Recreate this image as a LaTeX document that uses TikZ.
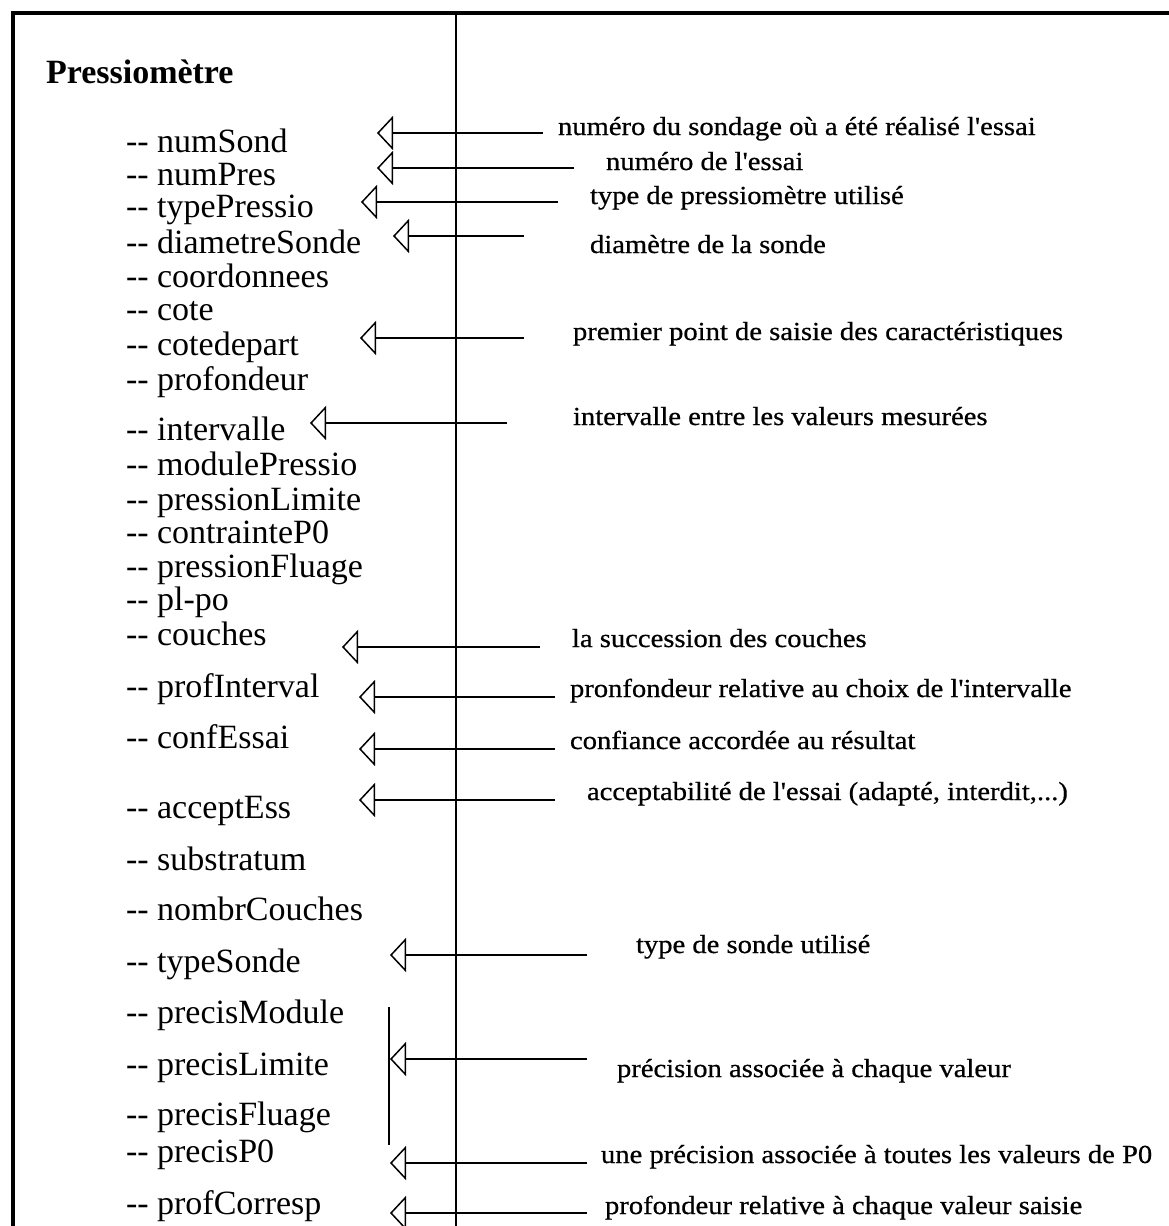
\documentclass[tikz,border=0pt]{standalone}
\usepackage{fontspec}
\setmainfont{Liberation Serif}
\newfontfamily\notefamily[FakeBold=0.6]{Liberation Serif}
\usetikzlibrary{arrows.meta}

% type sizes (1pt = 1 unit of the drawing)
\newcommand\itemfnt{\fontsize{34}{34}\selectfont}
\newcommand\titlefnt{\fontsize{34}{34}\selectfont\bfseries}
\newcommand\notefnt{\notefamily\fontsize{26}{26}\selectfont}
\newcommand\attr[1]{-{}- #1}
\newcommand\apos{\textquotesingle}
\newcommand\notetext[1]{\scalebox{1.1}[1]{#1}}

\begin{document}
\begin{tikzpicture}[x=1pt,y=-1pt,
  attrib/.style={anchor=base west, inner sep=0pt, outer sep=0pt, font=\itemfnt},
  note/.style={anchor=base west, inner sep=0pt, outer sep=0pt, font=\notefnt},
  heading/.style={anchor=base west, inner sep=0pt, outer sep=0pt, font=\titlefnt},
  frameline/.style={line width=3.2pt},
  divider/.style={line width=2.8pt},
  link/.style={line width=1.5pt, -{Triangle[open, length=16pt, width=34pt]}},
  brace/.style={line width=1.1pt}]

\useasboundingbox (0,0) rectangle (1169,1226);

% frame of the class box and the separating rule
\draw[frameline] (13,1226) -- (13,13) -- (1169,13);
\draw[divider] (456,13) -- (456,1226);

% class name
\node[heading] (title) at (46,83) {Pressiomètre};

% attributes
\foreach \n/\y/\t in {
  numSond/152/numSond, numPres/185/numPres, typePressio/217/typePressio,
  diametreSonde/253/diametreSonde, coordonnees/287/coordonnees, cote/320/cote,
  cotedepart/355/cotedepart, profondeur/390/profondeur, intervalle/440/intervalle,
  modulePressio/475/modulePressio, pressionLimite/510/pressionLimite,
  contrainteP/543/contrainteP0, pressionFluage/577/pressionFluage, plpo/610/pl-po,
  couches/645/couches, profInterval/697/profInterval, confEssai/748/confEssai,
  acceptEss/818/acceptEss, substratum/870/substratum, nombrCouches/920/nombrCouches,
  typeSonde/972/typeSonde, precisModule/1023/precisModule,
  precisLimite/1075/precisLimite, precisFluage/1125/precisFluage,
  precisP/1162/precisP0, profCorresp/1214/profCorresp}
  \node[attrib] (\n) at (126,\y) {\attr{\t}};

% comments on the right-hand side
\node[note] (cNumSond)   at (558,135)  {\notetext{numéro du sondage où a été réalisé l\apos essai}};
\node[note] (cNumPres)   at (606,170)  {\notetext{numéro de l\apos essai}};
\node[note] (cType)      at (590,204)  {\notetext{type de pressiomètre utilisé}};
\node[note] (cDiam)      at (590,253)  {\notetext{diamètre de la sonde}};
\node[note] (cCote)      at (573,340)  {\notetext{premier point de saisie des caractéristiques}};
\node[note] (cInterv)    at (573,425)  {\notetext{intervalle entre les valeurs mesurées}};
\node[note] (cCouches)   at (572,647)  {\notetext{la succession des couches}};
\node[note] (cProfInt)   at (570,697)  {\notetext{pronfondeur relative au choix de l\apos intervalle}};
\node[note] (cConf)      at (570,749)  {\notetext{confiance accordée au résultat}};
\node[note] (cAccept)    at (587,800)  {\notetext{acceptabilité de l\apos essai (adapté, interdit,...)}};
\node[note] (cTypeSonde) at (636,953)  {\notetext{type de sonde utilisé}};
\node[note] (cPrecis)    at (617,1077) {\notetext{précision associée à chaque valeur}};
\node[note] (cPrecisP)   at (601,1163) {\notetext{une précision associée à toutes les valeurs de P0}};
\node[note] (cProfCorr)  at (605,1214) {\notetext{profondeur relative à chaque valeur saisie}};

% arrow end points: tip near the attribute, tail near the comment
\foreach \n/\tx/\y/\ex in {
  numSond/377/133/543, numPres/377/168/574, typePressio/361/202/558,
  diametreSonde/393/236/524, cotedepart/360/338/524, intervalle/310/423/507,
  couches/342/647/540, profInterval/359/697/555, confEssai/359/749/555,
  acceptEss/359/800/555, typeSonde/390/955/587, precisLimite/390/1059/587,
  precisP/390/1163/587, profCorresp/390/1213/587}
{
  \coordinate (tip-\n) at (\tx,\y);
  \coordinate (tail-\n) at (\ex,\y);
  \draw[link] (tail-\n) -- (tip-\n);
}

% bar grouping the three precision attributes
\coordinate (barTop) at (389,1007);
\coordinate (barBot) at (389,1145);
\draw[brace] (barTop) -- (barBot);

\end{tikzpicture}
\end{document}
